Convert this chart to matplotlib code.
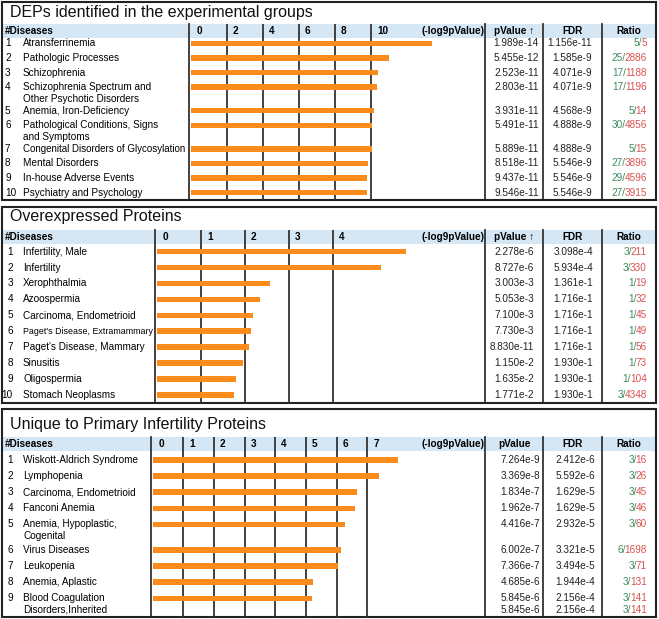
import matplotlib
matplotlib.use("Agg")
import matplotlib.pyplot as plt
from matplotlib.patches import Rectangle
from matplotlib.transforms import offset_copy

plt.rcParams['font.family'] = ['Liberation Sans', 'DejaVu Sans']

W, H = 659, 619

# --- data: DEPs identified in the experimental groups ---
title1 = "DEPs identified in the experimental groups"
names1 = ["Atransferrinemia", "Pathologic Processes", "Schizophrenia",
          "Schizophrenia Spectrum and\nOther Psychotic Disorders",
          "Anemia, Iron-Deficiency",
          "Pathological Conditions, Signs\nand Symptoms",
          "Congenital Disorders of Glycosylation", "Mental Disorders",
          "In-house Adverse Events", "Psychiatry and Psychology"]
bars1 = [13.39, 11.0, 10.39, 10.33, 10.17, 10.06, 10.06, 9.83, 9.78, 9.78]
pvals1 = ["1.989e-14", "5.455e-12", "2.523e-11", "2.803e-11", "3.931e-11",
          "5.491e-11", "5.889e-11", "8.518e-11", "9.437e-11", "9.546e-11"]
fdr1 = ["1.156e-11", "1.585e-9", "4.071e-9", "4.071e-9", "4.568e-9",
        "4.888e-9", "4.888e-9", "5.546e-9", "5.546e-9", "5.546e-9"]
hits1 = [5, 25, 17, 17, 5, 30, 5, 27, 29, 27]
totals1 = [5, 2886, 1188, 1196, 14, 4856, 15, 3896, 4596, 3915]
ticks1 = [0, 2, 4, 6, 8, 10]

# --- data: Overexpressed Proteins ---
title2 = "Overexpressed Proteins"
names2 = ["Infertility, Male", "Infertility", "Xerophthalmia", "Azoospermia",
          "Carcinoma, Endometrioid", "Paget's Disease, Extramammary",
          "Paget's Disease, Mammary", "Sinusitis", "Oligospermia",
          "Stomach Neoplasms"]
bars2 = [5.66, 5.09, 2.57, 2.34, 2.18, 2.14, 2.09, 1.95, 1.80, 1.75]
pvals2 = ["2.278e-6", "8.727e-6", "3.003e-3", "5.053e-3", "7.100e-3",
          "7.730e-3", "8.830e-11", "1.150e-2", "1.635e-2", "1.771e-2"]
fdr2 = ["3.098e-4", "5.934e-4", "1.361e-1", "1.716e-1", "1.716e-1",
        "1.716e-1", "1.716e-1", "1.930e-1", "1.930e-1", "1.930e-1"]
hits2 = [3, 3, 1, 1, 1, 1, 1, 1, 1, 3]
totals2 = [211, 330, 19, 32, 45, 49, 56, 73, 104, 4348]
ticks2 = [0, 1, 2, 3, 4]

# --- data: Unique to Primary Infertility Proteins ---
title3 = "Unique to Primary Infertility Proteins"
names3 = ["Wiskott-Aldrich Syndrome", "Lymphopenia", "Carcinoma, Endometrioid",
          "Fanconi Anemia", "Anemia, Hypoplastic,\nCogenital", "Virus Diseases",
          "Leukopenia", "Anemia, Aplastic",
          "Blood Coagulation\nDisorders,Inherited"]
bars3 = [8.0, 7.38, 6.66, 6.6, 6.27, 6.14, 6.04, 5.23, 5.2]
pvals3 = ["7.264e-9", "3.369e-8", "1.834e-7", "1.962e-7", "4.416e-7",
          "6.002e-7", "7.366e-7", "4.685e-6", "5.845e-6\n5.845e-6"]
fdr3 = ["2.412e-6", "5.592e-6", "1.629e-5", "1.629e-5", "2.932e-5",
        "3.321e-5", "3.494e-5", "1.944e-4", "2.156e-4\n2.156e-4"]
hits3 = [3, 3, 3, 3, 3, 6, 3, 3, 3]
totals3 = [16, 26, 45, 46, 60, 1698, 71, 131, 141]
ticks3 = [0, 1, 2, 3, 4, 5, 6, 7]

# --- style ---
ORANGE = "#fb8c1c"
HEAD_BG = "#d5e6f5"
LINE = "#333333"
GREEN = "#3d8a5c"
RED = "#d9534f"
FS = 7.2

fig = plt.figure(figsize=(W / 100, H / 100), dpi=100)
bg = fig.add_axes([0, 0, 1, 1])
bg.set_xlim(0, W)
bg.set_ylim(H, 0)
bg.axis("off")
renderer = fig.canvas.get_renderer()


def draw_panel(title, names, bars, pvals, fdr, hits, totals, ticks, lay, arrow):
    top, bot = lay["box"]
    htop, hbot = lay["head"]
    hmid = (htop + hbot) / 2
    col = lay["col"]
    # frame + header band
    bg.add_patch(Rectangle((2, top), 654, bot - top, fill=False, ec="#222222", lw=1.5, zorder=5))
    bg.add_patch(Rectangle((3, htop), 652, hbot - htop, fc=HEAD_BG, ec="none", zorder=1))
    bg.text(10, lay["title_y"], title, fontsize=11.5, va="center", ha="left", color="#111111")
    for x in [col, 485, 543, 602]:
        bg.plot([x, x], [htop, bot], color=LINE, lw=1.3, zorder=3)

    # header labels
    bg.text(5, hmid, "#Diseases", fontsize=FS, weight="bold", va="center")
    bg.text(484, hmid, "(-log9pValue)", fontsize=FS, weight="bold", va="center", ha="right")
    bg.text(514, hmid, "pValue" + (" \u2191" if arrow else ""), fontsize=FS,
            weight="bold", va="center", ha="center")
    bg.text(572.5, hmid, "FDR", fontsize=FS, weight="bold", va="center", ha="center")
    bg.text(629, hmid, "Ratio", fontsize=FS, weight="bold", va="center", ha="center")

    # row positions
    ys = []
    extra = 0
    for i, nm in enumerate(names):
        ys.append(lay["y0"] + i * lay["step"] + extra * lay["extra"])
        extra += nm.count("\n")

    # bar chart axes
    zero, ppu = lay["zero"], lay["ppu"]
    ax = fig.add_axes([col / W, 1 - bot / H, (485 - col) / W, (bot - htop) / H])
    ax.set_facecolor("none")
    ax.set_xlim((col - zero) / ppu, (485 - zero) / ppu)
    ax.set_ylim(bot, htop)
    ax.axis("off")
    ax.barh(ys, bars, height=5.5, color=ORANGE, zorder=2)
    for t in ticks[1:]:
        ax.axvline(t, color=LINE, lw=1.3, zorder=1)
    tr = offset_copy(ax.transData, fig=fig, x=6, y=0, units="dots")
    for t in ticks:
        ax.text(t, hmid, str(t), transform=tr, fontsize=FS, weight="bold", va="center", ha="left")

    maxw = col - 26
    for i, y in enumerate(ys):
        num = str(i + 1)
        if lay["num_right"]:
            bg.text(13, y, num, fontsize=FS, va="center", ha="right")
        else:
            bg.text(5, y, num, fontsize=FS, va="center", ha="left")
        for k, line in enumerate(names[i].split("\n")):
            t = bg.text(23, y + k * 11.5, line, fontsize=FS, va="center", ha="left")
            w = t.get_window_extent(renderer).width
            if w > maxw:
                t.set_fontsize(FS * maxw / w)
        plines = pvals[i].split("\n")
        flines = fdr[i].split("\n")
        for k in range(len(plines)):
            yy = y + k * 11.5
            bg.text(lay["pv_x"], yy, plines[k], fontsize=FS, va="center", ha="right", color="#222222")
            bg.text(lay["fdr_x"], yy, flines[k], fontsize=FS, va="center", ha="right", color="#222222")
            den = bg.text(647, yy, str(totals[i]), fontsize=FS, va="center", ha="right", color=RED)
            bg.annotate(f"{hits[i]}/", xy=(0, 0), xycoords=den, xytext=(0.7, 0),
                        textcoords="offset points", fontsize=FS,
                        va="bottom", ha="right", color=GREEN)


draw_panel(title1, names1, bars1, pvals1, fdr1, hits1, totals1, ticks1,
           dict(box=(2, 200), head=(24, 37.5), title_y=13, col=189, zero=191, ppu=18.0,
                y0=43.3, step=14.6, extra=9, pv_x=539, fdr_x=592, num_right=False), True)
draw_panel(title2, names2, bars2, pvals2, fdr2, hits2, totals2, ticks2,
           dict(box=(207, 403), head=(230, 244), title_y=217, col=155, zero=157, ppu=44.0,
                y0=251.7, step=15.9, extra=9, pv_x=534, fdr_x=593, num_right=True), True)
draw_panel(title3, names3, bars3, pvals3, fdr3, hits3, totals3, ticks3,
           dict(box=(409, 617), head=(437, 451), title_y=425, col=151, zero=152.5, ppu=30.7,
                y0=460, step=16.1, extra=9.5, pv_x=540, fdr_x=595, num_right=True), False)

fig.savefig("out.png", dpi=100)
